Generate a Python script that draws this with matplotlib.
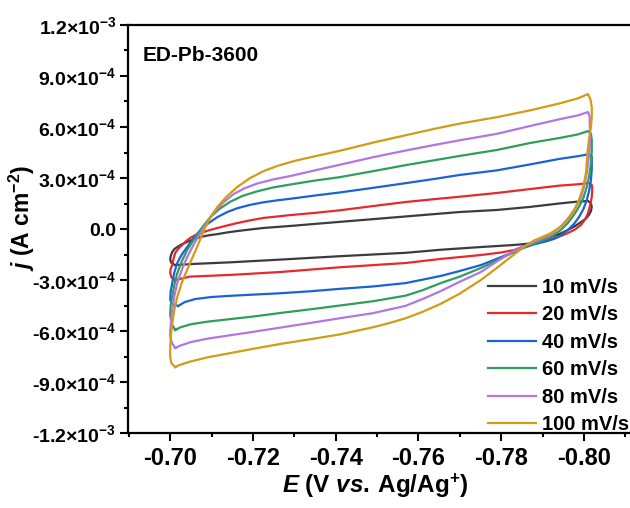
import numpy as np
import matplotlib
matplotlib.use("Agg")
from matplotlib import pyplot as plt
from matplotlib.ticker import FixedLocator, MultipleLocator

plt.rcParams['font.family'] = ['Liberation Sans', 'DejaVu Sans']
plt.rcParams['font.weight'] = 'bold'
plt.rcParams['mathtext.fontset'] = 'custom'
plt.rcParams['mathtext.rm'] = 'Liberation Sans:bold'
plt.rcParams['mathtext.bf'] = 'Liberation Sans:bold'
plt.rcParams['mathtext.it'] = 'Liberation Sans:italic:bold'
plt.rcParams['mathtext.default'] = 'rm'

# potential (V vs Ag/Ag+) and current density (x1e-3 A cm-2), closed CV loops
x_10 = [-0.7012, -0.7003, -0.7000, -0.7001, -0.7005, -0.7010, -0.7017, -0.7028, -0.7041, -0.7057,
        -0.7073, -0.7093, -0.7114, -0.7138, -0.7162, -0.7193, -0.7225, -0.7291,
        -0.7350, -0.7410, -0.7490, -0.7570, -0.7640, -0.7700, -0.7790, -0.7870, -0.7940, -0.7980, -0.8010,
        -0.8017, -0.8019, -0.8017, -0.8012, -0.8004, -0.7993, -0.7979, -0.7961, -0.7942, -0.7920,
        -0.7897, -0.7872,
        -0.7831, -0.7751, -0.7654, -0.7569, -0.7490, -0.7410, -0.7266, -0.7145, -0.7060, -0.7012]
j_10 = [-0.212, -0.200, -0.182, -0.160, -0.135, -0.118, -0.106, -0.090, -0.076, -0.060,
        -0.047, -0.037, -0.030, -0.020, -0.012, -0.003, 0.006, 0.018,
        0.030, 0.042, 0.058, 0.074, 0.088, 0.100, 0.112, 0.130, 0.150, 0.160, 0.165,
        0.150, 0.130, 0.105, 0.082, 0.060, 0.041, 0.018, -0.006, -0.028, -0.047,
        -0.068, -0.085,
        -0.094, -0.106, -0.122, -0.140, -0.150, -0.160, -0.180, -0.196, -0.205, -0.212]

x_20 = [-0.7012, -0.7003, -0.7000, -0.7001, -0.7005, -0.7008, -0.7012, -0.7020, -0.7029, -0.7038,
        -0.7048, -0.7060, -0.7073, -0.7093, -0.7114, -0.7138, -0.7162, -0.7193, -0.7225, -0.7291,
        -0.7350, -0.7410, -0.7490, -0.7570, -0.7640, -0.7700, -0.7790, -0.7870, -0.7940, -0.7985, -0.8012,
        -0.8019, -0.8020, -0.8020, -0.8019, -0.8015, -0.8010, -0.8003, -0.7993, -0.7979, -0.7961,
        -0.7937, -0.7910, -0.7872,
        -0.7851, -0.7831, -0.7800, -0.7751, -0.7654, -0.7569, -0.7410, -0.7266, -0.7145, -0.7048, -0.7012]
j_20 = [-0.300, -0.285, -0.259, -0.235, -0.212, -0.175, -0.141, -0.115, -0.094, -0.072,
        -0.053, -0.037, -0.024, -0.008, 0.006, 0.021, 0.035, 0.051, 0.065, 0.082,
        0.095, 0.110, 0.135, 0.159, 0.176, 0.190, 0.212, 0.235, 0.255, 0.263, 0.270,
        0.260, 0.247, 0.220, 0.188, 0.140, 0.094, 0.057, 0.024, -0.002, -0.024,
        -0.048, -0.068, -0.090,
        -0.105, -0.124, -0.138, -0.153, -0.176, -0.200, -0.225, -0.253, -0.270, -0.280, -0.300]

x_40 = [-0.7019, -0.7005, -0.7000, -0.7001, -0.7005, -0.7010, -0.7017, -0.7028, -0.7041, -0.7057,
        -0.7073, -0.7093, -0.7114, -0.7138, -0.7162, -0.7193, -0.7225, -0.7260, -0.7291,
        -0.7350, -0.7410, -0.7490, -0.7570, -0.7640, -0.7700, -0.7790, -0.7870, -0.7940, -0.7985, -0.8012,
        -0.8019, -0.8019, -0.8019, -0.8017, -0.8013, -0.8007, -0.7999, -0.7988, -0.7976, -0.7961,
        -0.7945, -0.7928, -0.7905, -0.7880,
        -0.7855, -0.7831, -0.7790, -0.7751, -0.7700, -0.7654, -0.7610, -0.7569, -0.7490, -0.7410,
        -0.7340, -0.7266, -0.7200, -0.7145, -0.7100, -0.7060, -0.7035, -0.7019]
j_40 = [-0.453, -0.440, -0.418, -0.370, -0.318, -0.255, -0.200, -0.150, -0.106, -0.052,
        -0.006, 0.035, 0.070, 0.100, 0.122, 0.142, 0.157, 0.169, 0.178,
        0.197, 0.215, 0.242, 0.270, 0.295, 0.318, 0.345, 0.380, 0.412, 0.428, 0.440,
        0.425, 0.406, 0.350, 0.288, 0.230, 0.170, 0.118, 0.070, 0.030, -0.006,
        -0.036, -0.058, -0.075, -0.090,
        -0.110, -0.135, -0.175, -0.212, -0.247, -0.276, -0.298, -0.318, -0.338, -0.352,
        -0.366, -0.378, -0.386, -0.393, -0.400, -0.412, -0.430, -0.453]

x_60 = [-0.7012, -0.7004, -0.7000, -0.7001, -0.7005, -0.7010, -0.7017, -0.7028, -0.7041, -0.7053,
        -0.7065, -0.7080, -0.7097, -0.7120, -0.7145, -0.7175, -0.7211, -0.7250, -0.7291,
        -0.7350, -0.7410, -0.7490, -0.7570, -0.7640, -0.7700, -0.7790, -0.7870, -0.7940, -0.7985, -0.8010,
        -0.8017, -0.8019, -0.8019, -0.8017, -0.8013, -0.8007, -0.7999, -0.7988, -0.7975, -0.7961,
        -0.7942, -0.7920, -0.7900, -0.7880,
        -0.7855, -0.7831, -0.7790, -0.7751, -0.7700, -0.7654, -0.7610, -0.7569, -0.7490, -0.7410,
        -0.7340, -0.7266, -0.7200, -0.7145, -0.7090, -0.7050, -0.7025, -0.7012]
j_60 = [-0.594, -0.560, -0.506, -0.450, -0.400, -0.330, -0.260, -0.190, -0.124, -0.078,
        -0.035, 0.018, 0.070, 0.120, 0.160, 0.195, 0.222, 0.245, 0.262,
        0.285, 0.305, 0.340, 0.376, 0.405, 0.430, 0.465, 0.506, 0.535, 0.556, 0.576,
        0.560, 0.524, 0.460, 0.388, 0.315, 0.247, 0.185, 0.130, 0.080, 0.035,
        -0.010, -0.047, -0.068, -0.085,
        -0.110, -0.135, -0.185, -0.229, -0.280, -0.318, -0.360, -0.392, -0.425, -0.450,
        -0.472, -0.494, -0.515, -0.530, -0.545, -0.560, -0.578, -0.594]

x_80 = [-0.7012, -0.7004, -0.7000, -0.7000, -0.7002, -0.7005, -0.7010, -0.7017, -0.7028, -0.7041,
        -0.7057, -0.7073, -0.7088, -0.7104, -0.7128, -0.7153, -0.7180, -0.7211, -0.7250, -0.7291,
        -0.7350, -0.7410, -0.7490, -0.7570, -0.7640, -0.7700, -0.7790, -0.7870, -0.7940, -0.7985, -0.8010,
        -0.8014, -0.8014, -0.8015, -0.8014, -0.8011, -0.8007, -0.8001, -0.7993, -0.7980, -0.7964,
        -0.7947, -0.7928, -0.7910, -0.7891, -0.7872,
        -0.7851, -0.7831, -0.7790, -0.7751, -0.7700, -0.7654, -0.7610, -0.7569, -0.7490, -0.7410,
        -0.7340, -0.7266, -0.7200, -0.7145, -0.7090, -0.7050, -0.7025, -0.7012]
j_80 = [-0.700, -0.670, -0.630, -0.606, -0.540, -0.476, -0.395, -0.318, -0.240, -0.165,
        -0.090, -0.024, 0.035, 0.094, 0.155, 0.205, 0.240, 0.268, 0.292, 0.312,
        0.345, 0.378, 0.422, 0.462, 0.495, 0.522, 0.560, 0.606, 0.645, 0.668, 0.688,
        0.660, 0.630, 0.560, 0.482, 0.405, 0.330, 0.255, 0.188, 0.125, 0.070,
        0.022, -0.018, -0.045, -0.065, -0.085,
        -0.105, -0.128, -0.190, -0.253, -0.310, -0.365, -0.412, -0.452, -0.495, -0.525,
        -0.552, -0.580, -0.605, -0.625, -0.645, -0.665, -0.685, -0.700]

x_100 = [-0.7012, -0.7003, -0.7000, -0.7000, -0.7002, -0.7005, -0.7010, -0.7017, -0.7028, -0.7041,
         -0.7053, -0.7065, -0.7075, -0.7085, -0.7098, -0.7114, -0.7136, -0.7162, -0.7192, -0.7225,
         -0.7260, -0.7300,
         -0.7350, -0.7410, -0.7490, -0.7570, -0.7640, -0.7700, -0.7790, -0.7870, -0.7940, -0.7985, -0.8010,
         -0.8016, -0.8019, -0.8019, -0.8017, -0.8012, -0.8008, -0.8005, -0.7998, -0.7988, -0.7976,
         -0.7961, -0.7942, -0.7920, -0.7900, -0.7879,
         -0.7855, -0.7831, -0.7790, -0.7751, -0.7700, -0.7654, -0.7610, -0.7569, -0.7530, -0.7490,
         -0.7410, -0.7340, -0.7266, -0.7200, -0.7145, -0.7090, -0.7048, -0.7025, -0.7012]
j_100 = [-0.812, -0.790, -0.750, -0.694, -0.620, -0.553, -0.475, -0.400, -0.315, -0.240,
         -0.172, -0.106, -0.046, 0.012, 0.072, 0.130, 0.190, 0.247, 0.298, 0.340,
         0.372, 0.400,
         0.428, 0.460, 0.508, 0.552, 0.590, 0.620, 0.658, 0.698, 0.738, 0.768, 0.794,
         0.760, 0.718, 0.660, 0.600, 0.524, 0.430, 0.330, 0.245, 0.170, 0.108,
         0.053, 0.010, -0.024, -0.047, -0.068,
         -0.105, -0.150, -0.228, -0.300, -0.380, -0.440, -0.487, -0.525, -0.553, -0.578,
         -0.620, -0.648, -0.676, -0.705, -0.730, -0.755, -0.780, -0.798, -0.812]

labels = ['10 mV/s', '20 mV/s', '40 mV/s', '60 mV/s', '80 mV/s', '100 mV/s']
colors = ['#3c3c3c', '#e8282d', '#1a62d6', '#2e9e5b', '#b276e2', '#d29c14']
curves = [(x_10, j_10), (x_20, j_20), (x_40, j_40), (x_60, j_60), (x_80, j_80), (x_100, j_100)]

x_ticks = [-0.70, -0.72, -0.74, -0.76, -0.78, -0.80]
x_ticklabels = ['-0.70', '-0.72', '-0.74', '-0.76', '-0.78', '-0.80']
y_ticks = [1.2e-3, 9e-4, 6e-4, 3e-4, 0, -3e-4, -6e-4, -9e-4, -1.2e-3]
y_ticklabels = ['1.2×10$^{-3}$', '9.0×10$^{-4}$', '6.0×10$^{-4}$', '3.0×10$^{-4}$', '0.0',
                '-3.0×10$^{-4}$', '-6.0×10$^{-4}$', '-9.0×10$^{-4}$', '-1.2×10$^{-3}$']

fig = plt.figure(figsize=(6.3, 5.08), dpi=100)
ax = fig.add_axes([0.2032, 0.1476, 0.7985, 0.8032])

for (x, j), c, lab in zip(curves, colors, labels):
    ax.plot(x, np.array(j) * 1e-3, color=c, lw=1.6, label=lab)

ax.set_xlim(-0.6898, -0.8114)
ax.set_ylim(-1.2e-3, 1.2e-3)

ax.xaxis.set_major_locator(FixedLocator(x_ticks))
ax.set_xticklabels(x_ticklabels)
ax.xaxis.set_minor_locator(MultipleLocator(0.01))
ax.yaxis.set_major_locator(FixedLocator(y_ticks))
ax.set_yticklabels(y_ticklabels)
ax.yaxis.set_minor_locator(MultipleLocator(1.5e-4))

ax.spines['right'].set_visible(False)
for s in ['left', 'bottom', 'top']:
    ax.spines[s].set_linewidth(1.6)
ax.tick_params(which='major', direction='out', length=5.5, width=1.5, pad=3)
ax.tick_params(which='minor', direction='out', length=3, width=1.5)
ax.tick_params(axis='y', labelsize=14)
ax.tick_params(axis='x', labelsize=17, pad=4.5)
ax.tick_params(top=False, right=False, which='both')

ax.set_xlabel(r'$\mathit{E}$ (V $\mathit{vs.}\,$Ag/Ag$^{+}$)', fontsize=17.5, fontweight='bold')
ax.set_ylabel(r'$\mathit{j}$ (A cm$^{-2}$)', fontsize=16.5, fontweight='bold')
ax.xaxis.set_label_coords(0.492, -0.096)
ax.yaxis.set_label_coords(-0.181, 0.527)

ax.text(0.03, 0.925, 'ED-Pb-3600', transform=ax.transAxes, fontsize=15, fontweight='bold',
        va='center', ha='left')

ax.legend(loc='lower right', bbox_to_anchor=(1.0, -0.008), frameon=False,
          prop={'size': 14.5, 'weight': 'bold'},
          handlelength=2.4, handletextpad=0.3, labelspacing=0.42, borderaxespad=0.0,
          borderpad=0.1)

fig.savefig('out.png', dpi=100)
